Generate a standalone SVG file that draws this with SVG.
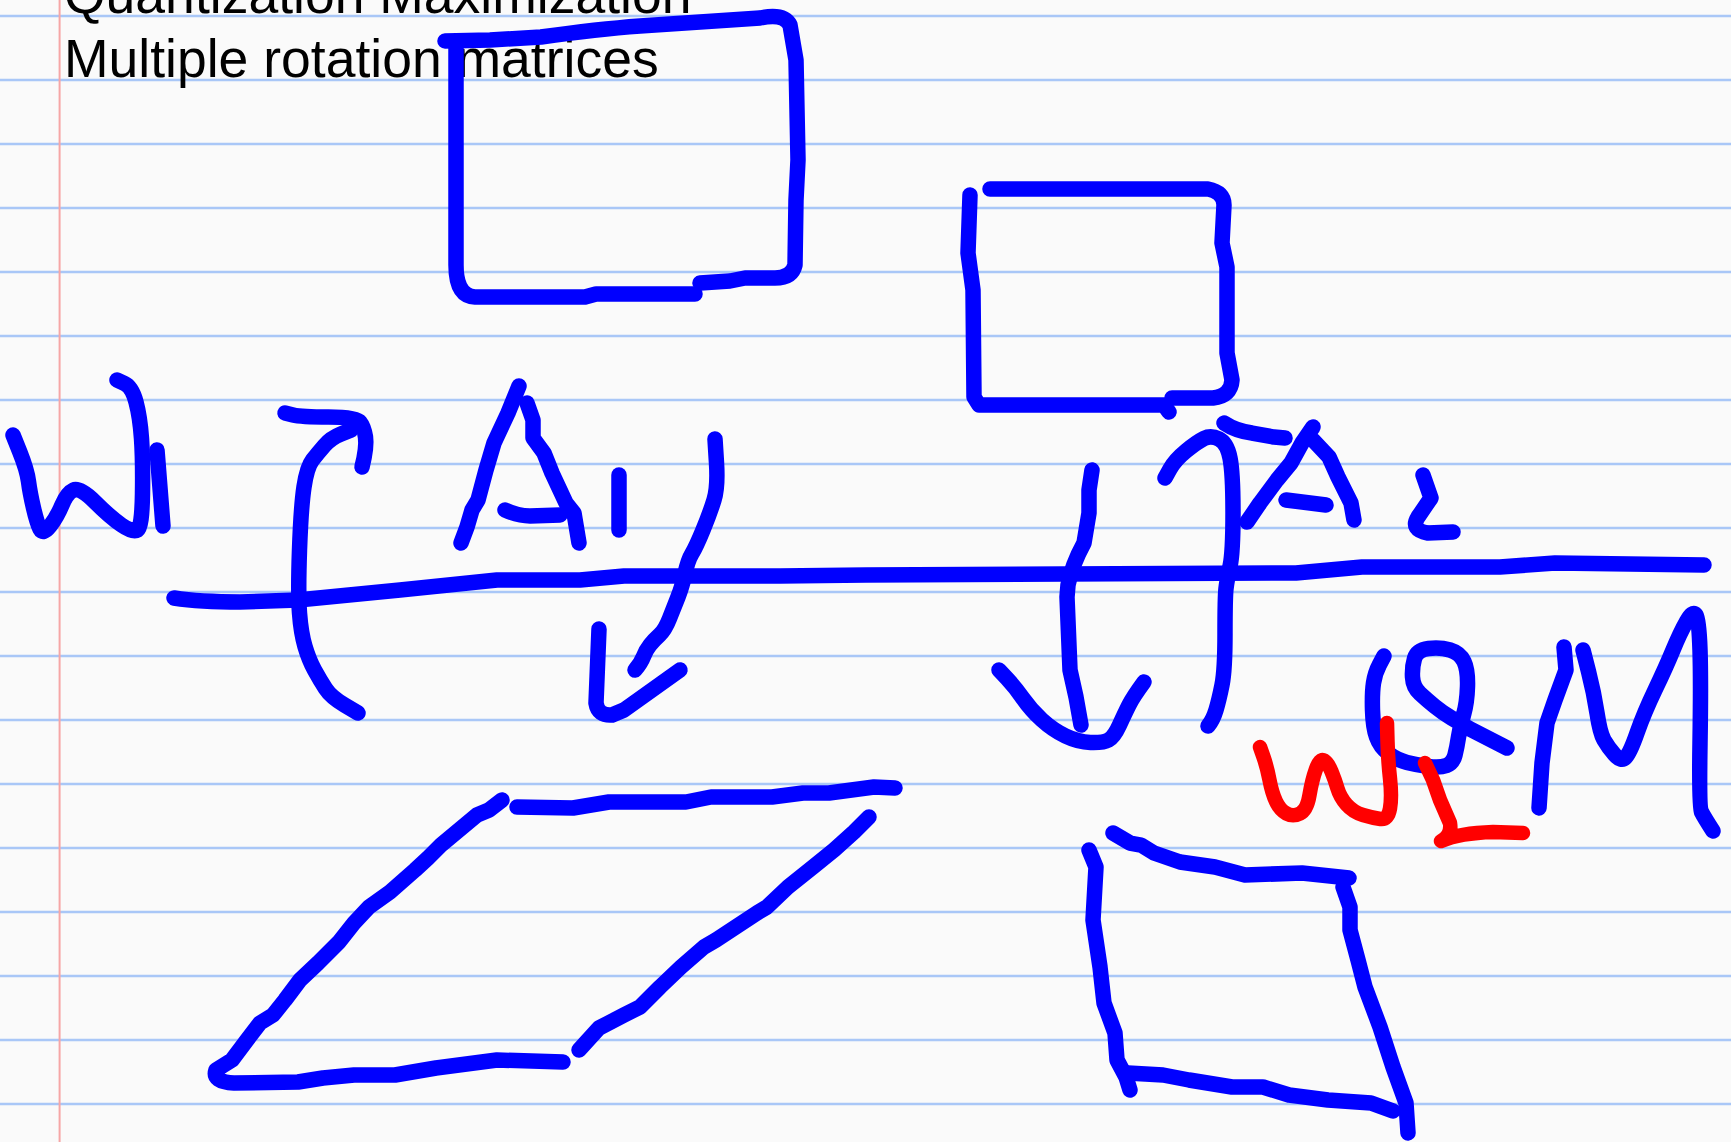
<svg xmlns="http://www.w3.org/2000/svg" width="1731" height="1142" viewBox="0 0 1731 1142">
<style>
.rule{stroke:#a9c7f7;stroke-width:2.5}
.margin{stroke:#f6a6a6;stroke-width:2}
.ink{fill:none;stroke:#0000ff;stroke-width:15.5;stroke-linecap:round;stroke-linejoin:round}
.red{fill:none;stroke:#ff0000;stroke-width:14.5;stroke-linecap:round;stroke-linejoin:round}
.txt{font-family:"Liberation Sans",Arial,sans-serif;font-size:53.5px;fill:#000}
</style>
<rect width="1731" height="1142" fill="#fafafa"/>
<g id="paper">
<line class="rule" x1="0" y1="16" x2="1731" y2="16"/>
<line class="rule" x1="0" y1="80" x2="1731" y2="80"/>
<line class="rule" x1="0" y1="144" x2="1731" y2="144"/>
<line class="rule" x1="0" y1="208" x2="1731" y2="208"/>
<line class="rule" x1="0" y1="272" x2="1731" y2="272"/>
<line class="rule" x1="0" y1="336" x2="1731" y2="336"/>
<line class="rule" x1="0" y1="400" x2="1731" y2="400"/>
<line class="rule" x1="0" y1="464" x2="1731" y2="464"/>
<line class="rule" x1="0" y1="528" x2="1731" y2="528"/>
<line class="rule" x1="0" y1="592" x2="1731" y2="592"/>
<line class="rule" x1="0" y1="656" x2="1731" y2="656"/>
<line class="rule" x1="0" y1="720" x2="1731" y2="720"/>
<line class="rule" x1="0" y1="784" x2="1731" y2="784"/>
<line class="rule" x1="0" y1="848" x2="1731" y2="848"/>
<line class="rule" x1="0" y1="912" x2="1731" y2="912"/>
<line class="rule" x1="0" y1="976" x2="1731" y2="976"/>
<line class="rule" x1="0" y1="1040" x2="1731" y2="1040"/>
<line class="rule" x1="0" y1="1104" x2="1731" y2="1104"/>
<line class="margin" x1="59.6" y1="0" x2="59.6" y2="1142"/>
</g>
<g id="title">
<text class="txt" x="64" y="13">Quantization Maximization</text>
<text class="txt" x="64" y="77">Multiple rotation matrices</text>
</g>
<g id="box-top-left">
<path class="ink" d="M445,41 L490,40 L541,37 C570,33 600,29 640,26 L700,22 L760,18 Q784,13 790,25 L796,60 L798,160 L796,200 L795,265 Q792,278 775,278 L745,278 L730,281 L700,283"/>
<path class="ink" d="M456,46 L456,265 Q456,296 475,297 L585,297 L596,294 L695,294"/>
</g>
<g id="box-top-right">
<path class="ink" d="M970,195 L968,253 L973,290 L974,397 L979,405 L1164,405 L1169,412"/>
<path class="ink" d="M990,189 L1208,189 Q1224,192 1224,205 L1222,243 L1227,267 L1227,353 L1232,380 Q1231,396 1213,398 L1172,398"/>
</g>
<g id="label-W1">
<path class="ink" d="M13,435 L20,452.5 Q27,470 28.5,481.5 Q30,493 33.5,508 Q37,523 40,529 Q43,535 50,526 Q57,517 62,505 Q67,493 73.5,490 Q80,487 95,502 Q110,517 121.5,525 Q133,533 137.5,530 Q142,527 142.5,493.5 Q143,460 141.5,438.5 Q140,417 136,402 Q132,387 124.5,383.5 L117,380"/>
<path class="ink" d="M157,450 L163,526"/>
</g>
<g id="label-A1">
<path class="ink" d="M519,386 L508,413 L494,443 L486,470 L478,500 L472,510 L467,527 L461,543"/>
<path class="ink" d="M527,403 L533,420 L533,438 L544,453 L552,473 L566,503 L574,513 L579,543"/>
<path class="ink" d="M505,510 Q518,516 530,516 L560,515"/>
<path class="ink" d="M619,475 L619,530"/>
</g>
<g id="label-A2">
<path class="ink" d="M1313,427 L1302,443 L1291,463 L1277,480 L1260,503 L1247,522"/>
<path class="ink" d="M1313,440 L1329,457 L1338,477 L1351,503 L1354,520"/>
<path class="ink" d="M1286,500 L1326,505"/>
<path class="ink" d="M1224,423 Q1236,431 1252,433 L1274,437 L1285,438"/>
<path class="ink" d="M1423,475 L1431,498 L1418,517 Q1410,530 1428,533 L1453,532"/>
</g>
<g id="label-QM">
<path class="ink" d="M1384,656 L1379.5,664.5 Q1375,673 1373.5,683 Q1372,693 1372.5,710 Q1373,727 1376.5,737 Q1380,747 1388.5,753.5 Q1397,760 1407,762.5 Q1417,765 1428.5,766.5 Q1440,768 1446.5,765.5 Q1453,763 1455,755 Q1457,747 1458.5,737 Q1460,727 1463.5,715 Q1467,703 1467.5,686.5 Q1468,670 1464,661.5 Q1460,653 1450,650 Q1440,647 1428.5,648.5 Q1417,650 1414.5,658.5 Q1412,667 1412.5,677 Q1413,687 1420,693.5 Q1427,700 1435,706.5 Q1443,713 1451.5,718 Q1460,723 1470,729 L1507,748"/>
<path class="ink" d="M1564,647 L1566,670 L1555,700 L1547,723 L1542,763 L1539,808"/>
<path class="ink" d="M1583,650 L1588.5,671.5 Q1594,693 1597,713 Q1600,733 1604,740 Q1608,747 1614.5,754.5 Q1621,762 1625.5,757.5 Q1630,753 1637,733 Q1644,713 1655,690 Q1666,667 1673,650 Q1680,633 1686.5,621.5 Q1693,610 1696,615 Q1699,620 1700,650 Q1701,680 1700,743.5 Q1699,807 1701.5,812 Q1704,817 1713,831"/>
</g>
<g id="label-WI-red">
<path class="red" d="M1260,747 L1263.5,757 Q1267,767 1269.5,780 Q1272,793 1276,801.5 Q1280,810 1286.5,813.5 Q1293,817 1300,813.5 Q1307,810 1309.5,795 Q1312,780 1316,769 Q1320,758 1324,760.5 Q1328,763 1331.5,771.5 Q1335,780 1337.5,788.5 Q1340,797 1346.5,804.5 Q1353,812 1363,815 Q1373,818 1380.5,819 Q1388,820 1390,808.5 Q1392,797 1390,778.5 Q1388,760 1387.5,741.5 L1387,723"/>
<path class="red" d="M1425,763 L1433,780 L1440,800 L1450,823 Q1452,836 1441,841 Q1460,833 1493,832 L1523,833"/>
</g>
<g id="parallelogram">
<path class="ink" d="M502,800 L489,810 L477,815 L459,830 L441,845 L428,858 L415,870 L390,892 L369,907 L354,923 L339,942 L318,963 L300,980 L285,1000 L273,1015 L260,1023 L247,1040 L232,1060 L216,1070 Q212,1082 234,1083 L298,1082 L323,1078 L354,1075 L395,1075 L436,1068 L497,1060 L563,1062"/>
<path class="ink" d="M517,807 L573,808 L609,802 L686,802 L711,797 L772,797 L803,793 L829,793 L874,787 L895,788"/>
<path class="ink" d="M869,817 L854,832 L834,850 L813,867 L788,887 L767,907 L757,913 L716,940 L704,947 L681,967 L660,987 L640,1007 L624,1015 L599,1028 L579,1050"/>
</g>
<g id="box-bottom-right">
<path class="ink" d="M1113,833 L1130,843 L1141,845 L1154,853 L1180,862 L1215,867 L1245,875 L1302,873 L1349,878"/>
<path class="ink" d="M1089,850 L1096,867 L1093,920 L1100,967 L1104,1003 L1115,1033 L1117,1060 L1126,1077 L1130,1090"/>
<path class="ink" d="M1128,1073 L1163,1075 L1189,1080 L1232,1087 L1263,1087 L1289,1095 L1328,1100 L1371,1103 L1393,1111"/>
<path class="ink" d="M1343,887 L1350,907 L1350,930 L1358,960 L1365,987 L1380,1027 L1393,1067 L1406,1103 L1408,1133"/>
</g>
<g id="connectors">
<path id="axis" class="ink" d="M174,598 Q200,602 240,602 L298,600 L400,590 L497,580 L580,580 L624,576 L700,576 L780,576 L866,575 L1064,574 L1296,573 L1362,567 L1500,567 L1555,563 L1704,565"/>
<path id="arrow-W1-up" class="ink" d="M351,430 L341,434 Q331,438 324.5,445.5 Q318,453 312.5,460 Q307,467 304,487 Q301,507 299.5,550 Q298,593 299.5,613 Q301,633 305,646.5 Q309,660 314.5,670 Q320,680 325.5,688.5 Q331,697 344.5,705 L358,713"/>
<path class="ink" d="M285,413 L293,415 Q301,417 328.5,417 Q356,417 360,422 Q364,427 365.5,437 Q367,447 362,467"/>
<path id="arrow-A1-down" class="ink" d="M715,439 L716.5,463 Q718,487 714,500 Q710,513 703,530 Q696,547 692,553.5 Q688,560 685,573.5 Q682,587 678,597 Q674,607 669.5,618.5 Q665,630 659.5,635 Q654,640 650,645 Q646,650 643.5,656.5 Q641,663 635,670"/>
<path class="ink" d="M599,629 L596,703 Q598,716 612,715 L624,710 L652,690 L680,670"/>
<path id="arrow-A2-down" class="ink" d="M1092,470 L1089,490 L1089,513 L1084,543 Q1072,565 1068,585 L1067,597 L1070,670 L1076,697 L1081,725"/>
<path class="ink" d="M999,670 L1007,678.5 Q1015,687 1023,698.5 Q1031,710 1042,720 Q1053,730 1065.5,736 Q1078,742 1090.5,742.5 Q1103,743 1108.5,740 Q1114,737 1119.5,725 Q1125,713 1129,705 Q1133,697 1144,682"/>
<path id="arrow-A2-up" class="ink" d="M1165,478 L1170,469 Q1175,460 1186,451 Q1197,442 1204,438.5 Q1211,435 1219,439 Q1227,443 1230,458 Q1233,473 1233,513 Q1233,553 1230,566.5 Q1227,580 1226,588.5 Q1225,597 1225,633.5 Q1225,670 1222,685 Q1219,700 1216,710 Q1213,720 1208,726"/>
</g>
</svg>
